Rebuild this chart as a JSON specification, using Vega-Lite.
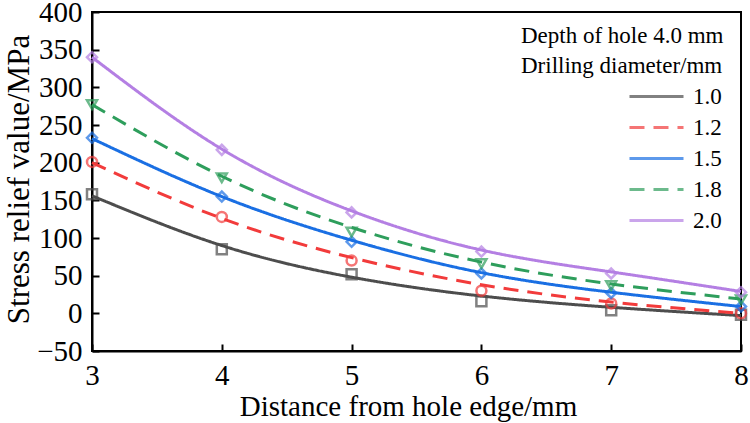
{
  "$schema": "https://vega.github.io/schema/vega-lite/v6.json",
  "autosize": "none",
  "padding": {"left": 92, "top": 12, "right": 9, "bottom": 72},
  "width": 649,
  "height": 339,
  "background": "white",
  "config": {
    "font": "Liberation Serif",
    "view": {"stroke": "black", "strokeWidth": 2},
    "style": {"guide-label": {"font": "Liberation Serif"}, "guide-title": {"font": "Liberation Serif"}},
    "axis": {"labelColor": "black", "titleColor": "black", "domainColor": "black", "tickColor": "black", "grid": false, "domainWidth": 2, "tickWidth": 2, "titleFontWeight": "normal"}
  },
  "data": {"values": [
    {"d": 3, "v": 158, "fit": 156, "dia": "1.0"}, {"d": 4, "v": 85, "fit": 90, "dia": "1.0"}, {"d": 5, "v": 52, "fit": 48, "dia": "1.0"}, {"d": 6, "v": 16, "fit": 23, "dia": "1.0"}, {"d": 7, "v": 4, "fit": 8, "dia": "1.0"}, {"d": 8, "v": -2, "fit": -3, "dia": "1.0"},
    {"d": 3, "v": 201, "fit": 200, "dia": "1.2"}, {"d": 4, "v": 128, "fit": 126, "dia": "1.2"}, {"d": 5, "v": 70, "fit": 74, "dia": "1.2"}, {"d": 6, "v": 30, "fit": 38, "dia": "1.2"}, {"d": 7, "v": 13, "fit": 15, "dia": "1.2"}, {"d": 8, "v": 0, "fit": 0, "dia": "1.2"},
    {"d": 3, "v": 233, "fit": 232, "dia": "1.5"}, {"d": 4, "v": 155, "fit": 155, "dia": "1.5"}, {"d": 5, "v": 95, "fit": 97, "dia": "1.5"}, {"d": 6, "v": 53, "fit": 54, "dia": "1.5"}, {"d": 7, "v": 27, "fit": 28, "dia": "1.5"}, {"d": 8, "v": 9, "fit": 9, "dia": "1.5"},
    {"d": 3, "v": 277, "fit": 277, "dia": "1.8"}, {"d": 4, "v": 180, "fit": 182, "dia": "1.8"}, {"d": 5, "v": 108, "fit": 114, "dia": "1.8"}, {"d": 6, "v": 66, "fit": 68, "dia": "1.8"}, {"d": 7, "v": 37, "fit": 39, "dia": "1.8"}, {"d": 8, "v": 18, "fit": 19, "dia": "1.8"},
    {"d": 3, "v": 340, "fit": 340, "dia": "2.0"}, {"d": 4, "v": 217, "fit": 218, "dia": "2.0"}, {"d": 5, "v": 134, "fit": 136, "dia": "2.0"}, {"d": 6, "v": 82, "fit": 84, "dia": "2.0"}, {"d": 7, "v": 53, "fit": 55, "dia": "2.0"}, {"d": 8, "v": 28, "fit": 29, "dia": "2.0"}
  ]},
  "encoding": {
    "x": {"field": "d", "type": "quantitative", "scale": {"domain": [3, 8], "nice": false, "zero": false},
      "axis": {"title": "Distance from hole edge/mm", "values": [3, 4, 5, 6, 7, 8], "tickSize": -7, "labelFont": "Liberation Serif", "titleFont": "Liberation Serif", "labelFontSize": 29, "titleFontSize": 29, "labelPadding": 17, "titleX": 316, "titleY": 41, "titleBaseline": "top", "titleAlign": "center", "labelFlush": false, "labelOverlap": false}},
    "y": {"field": "v", "type": "quantitative", "scale": {"domain": [-50, 400], "nice": false, "zero": false},
      "axis": {"title": "Stress relief value/MPa", "values": [-50, 0, 50, 100, 150, 200, 250, 300, 350, 400], "labelExpr": "replace(datum.label, '-', '−')", "tickSize": -7, "labelFont": "Liberation Serif", "titleFont": "Liberation Serif", "labelFontSize": 29, "titleFontSize": 31, "labelPadding": 17, "titleX": -73, "titleY": 167, "titleBaseline": "middle", "titleAlign": "center", "labelFlush": false, "labelOverlap": false, "labelBound": false}},
    "color": {"field": "dia", "type": "nominal", "scale": {"domain": ["1.0", "1.2", "1.5", "1.8", "2.0"], "range": ["#4d4d4d", "#f23b3b", "#1a6fe3", "#2e9e5c", "#b47fe3"]},
      "legend": {"orient": "none", "legendX": 429, "legendY": 13, "padding": 0,
        "title": ["Depth of hole 4.0 mm", "Drilling diameter/mm"], "titleFont": "Liberation Serif", "titleFontSize": 23, "titleFontWeight": "normal", "titleColor": "black", "titleLineHeight": 30, "titlePadding": 6, "titleLimit": 400,
        "labelFont": "Liberation Serif", "labelFontSize": 23, "labelColor": "black", "labelOffset": 24,
        "symbolType": "M-2.5,0H2.5", "symbolSize": 467, "symbolStrokeWidth": 3, "symbolOffset": 123, "rowPadding": 6}}
  },
  "layer": [
    {
      "mark": {"type": "line", "interpolate": "natural", "strokeWidth": 3},
      "encoding": {
        "y": {"field": "fit", "type": "quantitative"},
        "strokeDash": {"field": "dia", "type": "nominal", "scale": {"domain": ["1.0", "1.2", "1.5", "1.8", "2.0"], "range": [[1, 0], [15, 9], [1, 0], [15, 9], [1, 0]]}}
      }
    },
    {
      "mark": {"type": "point", "filled": false, "strokeWidth": 2.5, "size": 100},
      "encoding": {
        "shape": {"field": "dia", "type": "nominal", "scale": {"domain": ["1.0", "1.2", "1.5", "1.8", "2.0"], "range": ["square", "circle", "diamond", "triangle-down", "diamond"]}, "legend": null}
      }
    }
  ],
  "resolve": {"legend": {"shape": "independent"}}
}
